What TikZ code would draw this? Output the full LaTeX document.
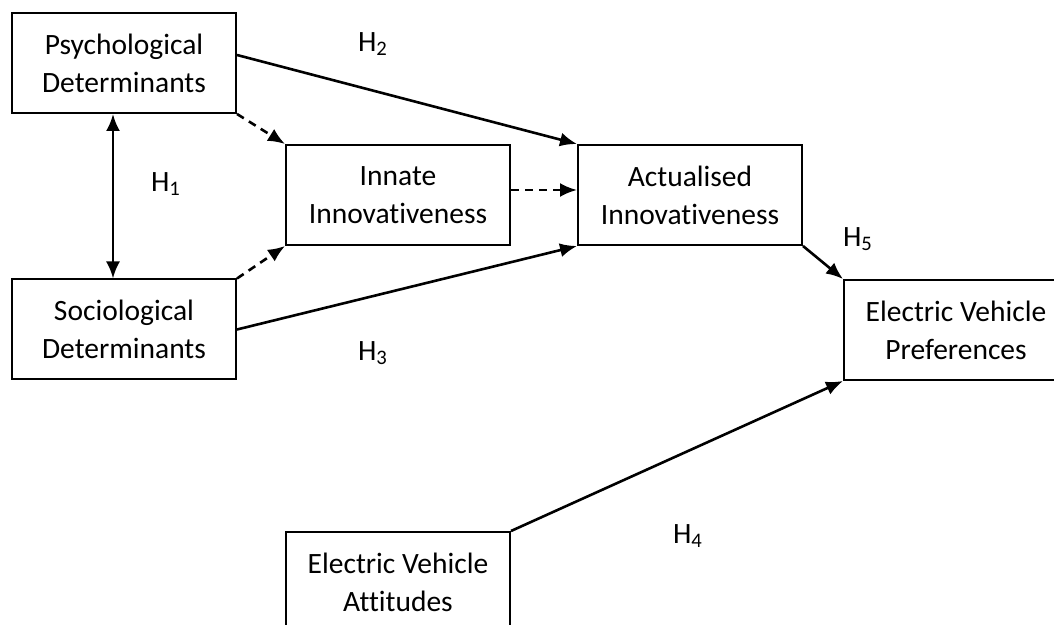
\documentclass[tikz,border=0pt]{standalone}
\usepackage{fontspec}
\setmainfont[Ligatures=NoCommon]{Carlito}
\usetikzlibrary{positioning, arrows.meta}

\tikzset{
	construct/.style={draw, line width=1pt, minimum width=112pt, minimum height=50pt,
		inner sep=0pt, align=center, font=\fontsize{14.75}{19}\selectfont},
	hyp/.style={font=\fontsize{14.75}{19}\selectfont},
	effect/.style={line width=1.3pt, -{Latex[length=8.5pt,width=7pt]}},
	mediated/.style={effect, dash pattern=on 4pt off 3pt},
	mutual/.style={line width=1.3pt, {Latex[length=8.5pt,width=7pt]}-{Latex[length=8.5pt,width=7pt]}},
}

\begin{document}
\begin{tikzpicture}[x=0.5pt, y=-0.5pt]
	\clip (0,0) rectangle (1054,625);
	\useasboundingbox (0,0) rectangle (1054,625);
	% constructs
	\node[construct] (psy) at (124,63) {Psychological\\Determinants};
	\node[construct] (soc) at (124,329.5) {Sociological\\Determinants};
	\node[construct] (inn) at (398,195) {Innate\\Innovativeness};
	\node[construct] (act) at (690,195) {Actualised\\Innovativeness};
	\node[construct] (pref) at (956,330) {Electric Vehicle\\Preferences};
	\node[construct] (att) at (398,582) {Electric Vehicle\\Attitudes};
	% hypotheses
	\node[hyp] (h1) at (166,184) {H\textsubscript{1}};
	\node[hyp] (h2) at (373,44) {H\textsubscript{2}};
	\node[hyp] (h3) at (373,353) {H\textsubscript{3}};
	\node[hyp] (h4) at (688,536) {H\textsubscript{4}};
	\node[hyp] (h5) at (858,239) {H\textsubscript{5}};
	% paths
	\draw[mutual] ([xshift=-5.5pt]psy.south) -- ([xshift=-5.5pt]soc.north);
	\draw[mediated] (psy.south east) -- (inn.north west);
	\draw[mediated] (soc.north east) -- (inn.south west);
	\draw[mediated] ([yshift=2.5pt]inn.east) -- ([yshift=2.5pt]inn.east -| act.west);
	\draw[effect] ([yshift=4pt]psy.east) -- (act.north west);
	\draw[effect] (soc.east) -- (act.south west);
	\draw[effect] (act.south east) -- (pref.north west);
	\draw[effect] (att.north east) -- (pref.south west);
\end{tikzpicture}
\end{document}
